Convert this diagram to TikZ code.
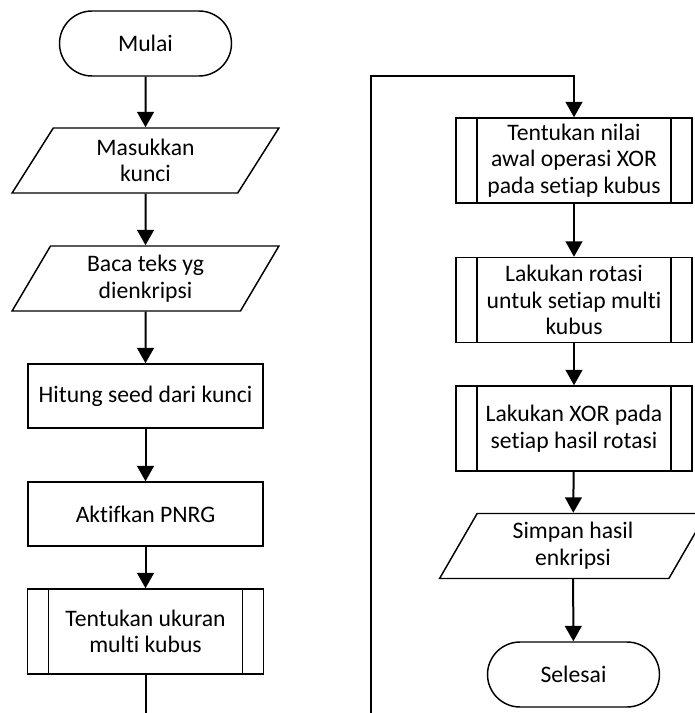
\documentclass[tikz,border=0pt]{standalone}
\usepackage{fontspec}
\setmainfont{Carlito}[Ligatures={NoCommon,NoContextual}]
\usetikzlibrary{arrows.meta,shapes.geometric,shapes.misc}
\tikzset{
  every node/.style={font=\fontsize{17.75}{20}\selectfont,align=center,line width=1.1pt},
  terminal/.style={draw,rectangle,rounded corners=24.4pt,minimum width=129pt,minimum height=48.75pt},
  iobox/.style={draw,trapezium,trapezium left angle=64.5,trapezium right angle=115.5,
    trapezium stretches=true,minimum width=200.25pt,minimum height=48.75pt,inner xsep=0pt,inner ysep=1pt},
  procbox/.style={draw,rectangle,minimum width=176.25pt,minimum height=48pt,inner sep=1pt},
  subproc/.style={procbox,minimum width=177pt,minimum height=63.75pt,
    path picture={
      \draw ([xshift=15.75pt]path picture bounding box.north west) -- ([xshift=15.75pt]path picture bounding box.south west);
      \draw ([xshift=-15.75pt]path picture bounding box.north east) -- ([xshift=-15.75pt]path picture bounding box.south east);}},
  flow/.style={line width=1.5pt,-{Triangle[width=12.5pt,length=11.5pt]}},
  link/.style={line width=1.5pt}
}
\begin{document}
\begin{tikzpicture}[x=0.75pt,y=-0.75pt]
  \useasboundingbox (0,0) rectangle (695,713);
  \clip (0,0) rectangle (695,713);
  % left column
  \node[terminal] (mulai) at (145.5,43.5) {Mulai};
  \node[iobox] (kunci) at (145.5,160.5) {Masukkan\\kunci};
  \node[iobox] (baca) at (145.5,278.5) {Baca teks yg\\dienkripsi};
  \node[procbox] (seed) at (145.5,396) {Hitung seed dari kunci};
  \node[procbox] (pnrg) at (145.5,514) {Aktifkan PNRG};
  \node[subproc] (ukuran) at (145.5,631.5) {Tentukan ukuran\\multi kubus};
  \coordinate (botL) at (145.5,730);
  % right column
  \coordinate (botR) at (371,730);
  \coordinate (topR) at (371,76);
  \node[subproc] (nilai) at (574,160.5) {Tentukan nilai\\awal operasi XOR\\pada setiap kubus};
  \node[subproc] (rotasi) at (574,300) {Lakukan rotasi\\untuk setiap multi\\kubus};
  \node[subproc] (xor) at (574,428.5) {Lakukan XOR pada\\setiap hasil rotasi};
  \node[iobox] (simpan) at (573,546) {Simpan hasil\\enkripsi};
  \node[terminal] (selesai) at (573.5,674.5) {Selesai};
  % connectors
  \draw[flow] (mulai) -- (kunci);
  \draw[flow] (kunci) -- (baca);
  \draw[flow] (baca) -- (seed);
  \draw[flow] (seed) -- (pnrg);
  \draw[flow] (pnrg) -- (ukuran);
  \draw[link] (ukuran) -- (botL);
  \draw[flow] (botR) -- (topR) -| (nilai.north);
  \draw[flow] (nilai) -- (rotasi);
  \draw[flow] (rotasi) -- (xor);
  \draw[flow] (xor) -- (simpan);
  \draw[flow] (simpan) -- (selesai);
\end{tikzpicture}
\end{document}
